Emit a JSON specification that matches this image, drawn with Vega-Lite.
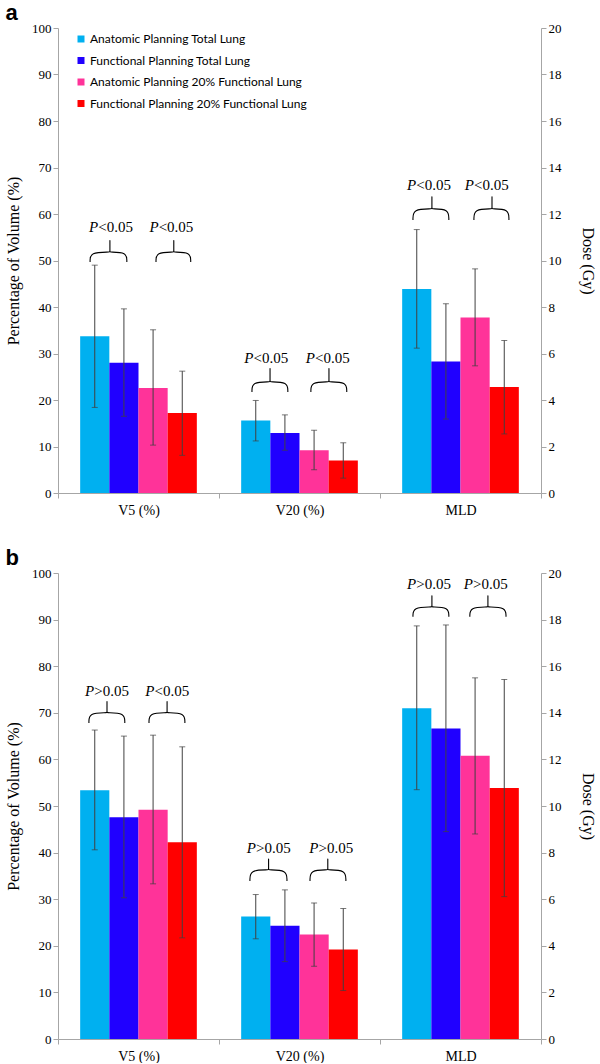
{
  "$schema": "https://vega.github.io/schema/vega-lite/v6.json",
  "background": "white",
  "padding": {"left": 5, "top": 2, "right": 2, "bottom": 0},
  "spacing": 30,
  "config": {
    "view": {"stroke": null},
    "axis": {"domainColor": "#a6a6a6", "tickColor": "#a6a6a6", "labelFont": "Liberation Serif", "labelFontSize": 13, "labelColor": "#000", "titleFont": "Liberation Serif", "titleFontSize": 16, "titleFontWeight": "normal", "titleColor": "#000", "grid": false, "tickSize": 5},
    "title": {"font": "Liberation Sans", "fontSize": 22, "fontWeight": "bold", "color": "#000", "anchor": "start", "frame": "bounds", "offset": -3},
    "legend": {"title": null, "orient": "none", "legendX": 17, "legendY": 5, "symbolType": "square", "symbolSize": 49, "symbolStrokeWidth": 0, "labelFont": "Lato", "labelFontSize": 12, "labelLimit": 0, "labelColor": "#000", "rowPadding": 9.5, "labelOffset": 3, "padding": 0, "direction": "vertical"}
  },
  "datasets": {
    "bars": [
      {"panel": "a", "metric": "V5 (%)", "series": "Anatomic Planning Total Lung", "mean": 33.7, "lo": 18.4, "hi": 49.0},
      {"panel": "a", "metric": "V5 (%)", "series": "Functional Planning Total Lung", "mean": 28.0, "lo": 16.5, "hi": 39.6},
      {"panel": "a", "metric": "V5 (%)", "series": "Anatomic Planning 20% Functional Lung", "mean": 22.6, "lo": 10.3, "hi": 35.1},
      {"panel": "a", "metric": "V5 (%)", "series": "Functional Planning 20% Functional Lung", "mean": 17.2, "lo": 8.1, "hi": 26.2},
      {"panel": "a", "metric": "V20 (%)", "series": "Anatomic Planning Total Lung", "mean": 15.6, "lo": 11.2, "hi": 19.9},
      {"panel": "a", "metric": "V20 (%)", "series": "Functional Planning Total Lung", "mean": 12.9, "lo": 9.2, "hi": 16.8},
      {"panel": "a", "metric": "V20 (%)", "series": "Anatomic Planning 20% Functional Lung", "mean": 9.2, "lo": 5.0, "hi": 13.5},
      {"panel": "a", "metric": "V20 (%)", "series": "Functional Planning 20% Functional Lung", "mean": 7.0, "lo": 3.2, "hi": 10.8},
      {"panel": "a", "metric": "MLD", "series": "Anatomic Planning Total Lung", "mean": 8.77, "lo": 6.23, "hi": 11.33},
      {"panel": "a", "metric": "MLD", "series": "Functional Planning Total Lung", "mean": 5.66, "lo": 3.18, "hi": 8.14},
      {"panel": "a", "metric": "MLD", "series": "Anatomic Planning 20% Functional Lung", "mean": 7.55, "lo": 5.47, "hi": 9.64},
      {"panel": "a", "metric": "MLD", "series": "Functional Planning 20% Functional Lung", "mean": 4.56, "lo": 2.54, "hi": 6.56},
      {"panel": "b", "metric": "V5 (%)", "series": "Anatomic Planning Total Lung", "mean": 53.4, "lo": 40.6, "hi": 66.3},
      {"panel": "b", "metric": "V5 (%)", "series": "Functional Planning Total Lung", "mean": 47.6, "lo": 30.3, "hi": 65.0},
      {"panel": "b", "metric": "V5 (%)", "series": "Anatomic Planning 20% Functional Lung", "mean": 49.2, "lo": 33.3, "hi": 65.2},
      {"panel": "b", "metric": "V5 (%)", "series": "Functional Planning 20% Functional Lung", "mean": 42.2, "lo": 21.7, "hi": 62.7},
      {"panel": "b", "metric": "V20 (%)", "series": "Anatomic Planning Total Lung", "mean": 26.3, "lo": 21.5, "hi": 31.0},
      {"panel": "b", "metric": "V20 (%)", "series": "Functional Planning Total Lung", "mean": 24.3, "lo": 16.6, "hi": 32.0},
      {"panel": "b", "metric": "V20 (%)", "series": "Anatomic Planning 20% Functional Lung", "mean": 22.4, "lo": 15.6, "hi": 29.2},
      {"panel": "b", "metric": "V20 (%)", "series": "Functional Planning 20% Functional Lung", "mean": 19.2, "lo": 10.4, "hi": 28.0},
      {"panel": "b", "metric": "MLD", "series": "Anatomic Planning Total Lung", "mean": 14.2, "lo": 10.7, "hi": 17.73},
      {"panel": "b", "metric": "MLD", "series": "Functional Planning Total Lung", "mean": 13.33, "lo": 8.9, "hi": 17.77},
      {"panel": "b", "metric": "MLD", "series": "Anatomic Planning 20% Functional Lung", "mean": 12.16, "lo": 8.8, "hi": 15.5},
      {"panel": "b", "metric": "MLD", "series": "Functional Planning 20% Functional Lung", "mean": 10.77, "lo": 6.11, "hi": 15.43}
    ],
    "braces": [
      {"panel": "a", "metric": "V5 (%)", "g": "aV51", "k": 0, "pos": 1.10, "y": 49.7},
      {"panel": "a", "metric": "V5 (%)", "g": "aV51", "k": 1, "pos": 1.10, "y": 51.8},
      {"panel": "a", "metric": "V5 (%)", "g": "aV51", "k": 2, "pos": 1.78, "y": 51.8},
      {"panel": "a", "metric": "V5 (%)", "g": "aV51", "k": 3, "pos": 1.78, "y": 51.8},
      {"panel": "a", "metric": "V5 (%)", "g": "aV51", "k": 4, "pos": 1.78, "y": 54.4},
      {"panel": "a", "metric": "V5 (%)", "g": "aV51", "k": 5, "pos": 1.78, "y": 54.4},
      {"panel": "a", "metric": "V5 (%)", "g": "aV51", "k": 6, "pos": 1.78, "y": 51.8},
      {"panel": "a", "metric": "V5 (%)", "g": "aV51", "k": 7, "pos": 1.78, "y": 51.8},
      {"panel": "a", "metric": "V5 (%)", "g": "aV51", "k": 8, "pos": 2.36, "y": 51.8},
      {"panel": "a", "metric": "V5 (%)", "g": "aV51", "k": 9, "pos": 2.36, "y": 49.7},
      {"panel": "a", "metric": "V5 (%)", "g": "aV52", "k": 0, "pos": 3.36, "y": 49.7},
      {"panel": "a", "metric": "V5 (%)", "g": "aV52", "k": 1, "pos": 3.36, "y": 51.8},
      {"panel": "a", "metric": "V5 (%)", "g": "aV52", "k": 2, "pos": 3.97, "y": 51.8},
      {"panel": "a", "metric": "V5 (%)", "g": "aV52", "k": 3, "pos": 3.97, "y": 51.8},
      {"panel": "a", "metric": "V5 (%)", "g": "aV52", "k": 4, "pos": 3.97, "y": 54.4},
      {"panel": "a", "metric": "V5 (%)", "g": "aV52", "k": 5, "pos": 3.97, "y": 54.4},
      {"panel": "a", "metric": "V5 (%)", "g": "aV52", "k": 6, "pos": 3.97, "y": 51.8},
      {"panel": "a", "metric": "V5 (%)", "g": "aV52", "k": 7, "pos": 3.97, "y": 51.8},
      {"panel": "a", "metric": "V5 (%)", "g": "aV52", "k": 8, "pos": 4.55, "y": 51.8},
      {"panel": "a", "metric": "V5 (%)", "g": "aV52", "k": 9, "pos": 4.55, "y": 49.7},
      {"panel": "a", "metric": "V20 (%)", "g": "aV201", "k": 0, "pos": 1.13, "y": 21.7},
      {"panel": "a", "metric": "V20 (%)", "g": "aV201", "k": 1, "pos": 1.13, "y": 23.9},
      {"panel": "a", "metric": "V20 (%)", "g": "aV201", "k": 2, "pos": 1.75, "y": 23.9},
      {"panel": "a", "metric": "V20 (%)", "g": "aV201", "k": 3, "pos": 1.75, "y": 23.9},
      {"panel": "a", "metric": "V20 (%)", "g": "aV201", "k": 4, "pos": 1.75, "y": 26.9},
      {"panel": "a", "metric": "V20 (%)", "g": "aV201", "k": 5, "pos": 1.75, "y": 26.9},
      {"panel": "a", "metric": "V20 (%)", "g": "aV201", "k": 6, "pos": 1.75, "y": 23.9},
      {"panel": "a", "metric": "V20 (%)", "g": "aV201", "k": 7, "pos": 1.75, "y": 23.9},
      {"panel": "a", "metric": "V20 (%)", "g": "aV201", "k": 8, "pos": 2.36, "y": 23.9},
      {"panel": "a", "metric": "V20 (%)", "g": "aV201", "k": 9, "pos": 2.36, "y": 21.7},
      {"panel": "a", "metric": "V20 (%)", "g": "aV202", "k": 0, "pos": 3.15, "y": 21.7},
      {"panel": "a", "metric": "V20 (%)", "g": "aV202", "k": 1, "pos": 3.15, "y": 23.9},
      {"panel": "a", "metric": "V20 (%)", "g": "aV202", "k": 2, "pos": 3.77, "y": 23.9},
      {"panel": "a", "metric": "V20 (%)", "g": "aV202", "k": 3, "pos": 3.77, "y": 23.9},
      {"panel": "a", "metric": "V20 (%)", "g": "aV202", "k": 4, "pos": 3.77, "y": 26.9},
      {"panel": "a", "metric": "V20 (%)", "g": "aV202", "k": 5, "pos": 3.77, "y": 26.9},
      {"panel": "a", "metric": "V20 (%)", "g": "aV202", "k": 6, "pos": 3.77, "y": 23.9},
      {"panel": "a", "metric": "V20 (%)", "g": "aV202", "k": 7, "pos": 3.77, "y": 23.9},
      {"panel": "a", "metric": "V20 (%)", "g": "aV202", "k": 8, "pos": 4.38, "y": 23.9},
      {"panel": "a", "metric": "V20 (%)", "g": "aV202", "k": 9, "pos": 4.38, "y": 21.7},
      {"panel": "a", "metric": "MLD", "g": "aM1", "k": 0, "pos": 1.13, "y": 58.7},
      {"panel": "a", "metric": "MLD", "g": "aM1", "k": 1, "pos": 1.13, "y": 61.1},
      {"panel": "a", "metric": "MLD", "g": "aM1", "k": 2, "pos": 1.78, "y": 61.1},
      {"panel": "a", "metric": "MLD", "g": "aM1", "k": 3, "pos": 1.78, "y": 61.1},
      {"panel": "a", "metric": "MLD", "g": "aM1", "k": 4, "pos": 1.78, "y": 63.8},
      {"panel": "a", "metric": "MLD", "g": "aM1", "k": 5, "pos": 1.78, "y": 63.8},
      {"panel": "a", "metric": "MLD", "g": "aM1", "k": 6, "pos": 1.78, "y": 61.1},
      {"panel": "a", "metric": "MLD", "g": "aM1", "k": 7, "pos": 1.78, "y": 61.1},
      {"panel": "a", "metric": "MLD", "g": "aM1", "k": 8, "pos": 2.36, "y": 61.1},
      {"panel": "a", "metric": "MLD", "g": "aM1", "k": 9, "pos": 2.36, "y": 58.7},
      {"panel": "a", "metric": "MLD", "g": "aM2", "k": 0, "pos": 3.22, "y": 58.7},
      {"panel": "a", "metric": "MLD", "g": "aM2", "k": 1, "pos": 3.22, "y": 61.1},
      {"panel": "a", "metric": "MLD", "g": "aM2", "k": 2, "pos": 3.84, "y": 61.1},
      {"panel": "a", "metric": "MLD", "g": "aM2", "k": 3, "pos": 3.84, "y": 61.1},
      {"panel": "a", "metric": "MLD", "g": "aM2", "k": 4, "pos": 3.84, "y": 63.8},
      {"panel": "a", "metric": "MLD", "g": "aM2", "k": 5, "pos": 3.84, "y": 63.8},
      {"panel": "a", "metric": "MLD", "g": "aM2", "k": 6, "pos": 3.84, "y": 61.1},
      {"panel": "a", "metric": "MLD", "g": "aM2", "k": 7, "pos": 3.84, "y": 61.1},
      {"panel": "a", "metric": "MLD", "g": "aM2", "k": 8, "pos": 4.42, "y": 61.1},
      {"panel": "a", "metric": "MLD", "g": "aM2", "k": 9, "pos": 4.42, "y": 58.7},
      {"panel": "b", "metric": "V5 (%)", "g": "bV51", "k": 0, "pos": 1.06, "y": 67.8},
      {"panel": "b", "metric": "V5 (%)", "g": "bV51", "k": 1, "pos": 1.06, "y": 70.0},
      {"panel": "b", "metric": "V5 (%)", "g": "bV51", "k": 2, "pos": 1.68, "y": 70.0},
      {"panel": "b", "metric": "V5 (%)", "g": "bV51", "k": 3, "pos": 1.68, "y": 70.0},
      {"panel": "b", "metric": "V5 (%)", "g": "bV51", "k": 4, "pos": 1.68, "y": 72.5},
      {"panel": "b", "metric": "V5 (%)", "g": "bV51", "k": 5, "pos": 1.68, "y": 72.5},
      {"panel": "b", "metric": "V5 (%)", "g": "bV51", "k": 6, "pos": 1.68, "y": 70.0},
      {"panel": "b", "metric": "V5 (%)", "g": "bV51", "k": 7, "pos": 1.68, "y": 70.0},
      {"panel": "b", "metric": "V5 (%)", "g": "bV51", "k": 8, "pos": 2.29, "y": 70.0},
      {"panel": "b", "metric": "V5 (%)", "g": "bV51", "k": 9, "pos": 2.29, "y": 67.8},
      {"panel": "b", "metric": "V5 (%)", "g": "bV52", "k": 0, "pos": 3.12, "y": 67.8},
      {"panel": "b", "metric": "V5 (%)", "g": "bV52", "k": 1, "pos": 3.12, "y": 70.0},
      {"panel": "b", "metric": "V5 (%)", "g": "bV52", "k": 2, "pos": 3.74, "y": 70.0},
      {"panel": "b", "metric": "V5 (%)", "g": "bV52", "k": 3, "pos": 3.74, "y": 70.0},
      {"panel": "b", "metric": "V5 (%)", "g": "bV52", "k": 4, "pos": 3.74, "y": 72.5},
      {"panel": "b", "metric": "V5 (%)", "g": "bV52", "k": 5, "pos": 3.74, "y": 72.5},
      {"panel": "b", "metric": "V5 (%)", "g": "bV52", "k": 6, "pos": 3.74, "y": 70.0},
      {"panel": "b", "metric": "V5 (%)", "g": "bV52", "k": 7, "pos": 3.74, "y": 70.0},
      {"panel": "b", "metric": "V5 (%)", "g": "bV52", "k": 8, "pos": 4.35, "y": 70.0},
      {"panel": "b", "metric": "V5 (%)", "g": "bV52", "k": 9, "pos": 4.35, "y": 67.8},
      {"panel": "b", "metric": "V20 (%)", "g": "bV201", "k": 0, "pos": 1.06, "y": 33.9},
      {"panel": "b", "metric": "V20 (%)", "g": "bV201", "k": 1, "pos": 1.06, "y": 36.3},
      {"panel": "b", "metric": "V20 (%)", "g": "bV201", "k": 2, "pos": 1.70, "y": 36.3},
      {"panel": "b", "metric": "V20 (%)", "g": "bV201", "k": 3, "pos": 1.70, "y": 36.3},
      {"panel": "b", "metric": "V20 (%)", "g": "bV201", "k": 4, "pos": 1.70, "y": 38.7},
      {"panel": "b", "metric": "V20 (%)", "g": "bV201", "k": 5, "pos": 1.70, "y": 38.7},
      {"panel": "b", "metric": "V20 (%)", "g": "bV201", "k": 6, "pos": 1.70, "y": 36.3},
      {"panel": "b", "metric": "V20 (%)", "g": "bV201", "k": 7, "pos": 1.70, "y": 36.3},
      {"panel": "b", "metric": "V20 (%)", "g": "bV201", "k": 8, "pos": 2.33, "y": 36.3},
      {"panel": "b", "metric": "V20 (%)", "g": "bV201", "k": 9, "pos": 2.33, "y": 33.9},
      {"panel": "b", "metric": "V20 (%)", "g": "bV202", "k": 0, "pos": 3.12, "y": 33.9},
      {"panel": "b", "metric": "V20 (%)", "g": "bV202", "k": 1, "pos": 3.12, "y": 36.3},
      {"panel": "b", "metric": "V20 (%)", "g": "bV202", "k": 2, "pos": 3.73, "y": 36.3},
      {"panel": "b", "metric": "V20 (%)", "g": "bV202", "k": 3, "pos": 3.73, "y": 36.3},
      {"panel": "b", "metric": "V20 (%)", "g": "bV202", "k": 4, "pos": 3.73, "y": 38.7},
      {"panel": "b", "metric": "V20 (%)", "g": "bV202", "k": 5, "pos": 3.73, "y": 38.7},
      {"panel": "b", "metric": "V20 (%)", "g": "bV202", "k": 6, "pos": 3.73, "y": 36.3},
      {"panel": "b", "metric": "V20 (%)", "g": "bV202", "k": 7, "pos": 3.73, "y": 36.3},
      {"panel": "b", "metric": "V20 (%)", "g": "bV202", "k": 8, "pos": 4.35, "y": 36.3},
      {"panel": "b", "metric": "V20 (%)", "g": "bV202", "k": 9, "pos": 4.35, "y": 33.9},
      {"panel": "b", "metric": "MLD", "g": "bM1", "k": 0, "pos": 1.13, "y": 90.6},
      {"panel": "b", "metric": "MLD", "g": "bM1", "k": 1, "pos": 1.13, "y": 92.7},
      {"panel": "b", "metric": "MLD", "g": "bM1", "k": 2, "pos": 1.78, "y": 92.7},
      {"panel": "b", "metric": "MLD", "g": "bM1", "k": 3, "pos": 1.78, "y": 92.7},
      {"panel": "b", "metric": "MLD", "g": "bM1", "k": 4, "pos": 1.78, "y": 95.2},
      {"panel": "b", "metric": "MLD", "g": "bM1", "k": 5, "pos": 1.78, "y": 95.2},
      {"panel": "b", "metric": "MLD", "g": "bM1", "k": 6, "pos": 1.78, "y": 92.7},
      {"panel": "b", "metric": "MLD", "g": "bM1", "k": 7, "pos": 1.78, "y": 92.7},
      {"panel": "b", "metric": "MLD", "g": "bM1", "k": 8, "pos": 2.36, "y": 92.7},
      {"panel": "b", "metric": "MLD", "g": "bM1", "k": 9, "pos": 2.36, "y": 90.6},
      {"panel": "b", "metric": "MLD", "g": "bM2", "k": 0, "pos": 3.08, "y": 90.6},
      {"panel": "b", "metric": "MLD", "g": "bM2", "k": 1, "pos": 3.08, "y": 92.7},
      {"panel": "b", "metric": "MLD", "g": "bM2", "k": 2, "pos": 3.70, "y": 92.7},
      {"panel": "b", "metric": "MLD", "g": "bM2", "k": 3, "pos": 3.70, "y": 92.7},
      {"panel": "b", "metric": "MLD", "g": "bM2", "k": 4, "pos": 3.70, "y": 95.2},
      {"panel": "b", "metric": "MLD", "g": "bM2", "k": 5, "pos": 3.70, "y": 95.2},
      {"panel": "b", "metric": "MLD", "g": "bM2", "k": 6, "pos": 3.70, "y": 92.7},
      {"panel": "b", "metric": "MLD", "g": "bM2", "k": 7, "pos": 3.70, "y": 92.7},
      {"panel": "b", "metric": "MLD", "g": "bM2", "k": 8, "pos": 4.32, "y": 92.7},
      {"panel": "b", "metric": "MLD", "g": "bM2", "k": 9, "pos": 4.32, "y": 90.6}
    ],
    "ptext": [
      {"panel": "a", "metric": "V5 (%)", "pos": 1.38, "y": 57.2, "p": "P", "rest": "<0.05"},
      {"panel": "a", "metric": "V5 (%)", "pos": 3.45, "y": 57.2, "p": "P", "rest": "<0.05"},
      {"panel": "a", "metric": "V20 (%)", "pos": 1.18, "y": 29.0, "p": "P", "rest": "<0.05"},
      {"panel": "a", "metric": "V20 (%)", "pos": 3.29, "y": 29.0, "p": "P", "rest": "<0.05"},
      {"panel": "a", "metric": "MLD", "pos": 1.24, "y": 66.2, "p": "P", "rest": "<0.05"},
      {"panel": "a", "metric": "MLD", "pos": 3.22, "y": 66.2, "p": "P", "rest": "<0.05"},
      {"panel": "b", "metric": "V5 (%)", "pos": 1.24, "y": 74.7, "p": "P", "rest": ">0.05"},
      {"panel": "b", "metric": "V5 (%)", "pos": 3.31, "y": 74.7, "p": "P", "rest": "<0.05"},
      {"panel": "b", "metric": "V20 (%)", "pos": 1.27, "y": 41.0, "p": "P", "rest": ">0.05"},
      {"panel": "b", "metric": "V20 (%)", "pos": 3.41, "y": 41.0, "p": "P", "rest": ">0.05"},
      {"panel": "b", "metric": "MLD", "pos": 1.24, "y": 97.6, "p": "P", "rest": ">0.05"},
      {"panel": "b", "metric": "MLD", "pos": 3.19, "y": 97.6, "p": "P", "rest": ">0.05"}
    ]
  },
  "vconcat": [
    {
      "width": 483,
      "height": 465,
      "title": {"text": "a"},
      "resolve": {"scale": {"y": "independent", "xOffset": "independent"}},
      "encoding": {
        "x": {"field": "metric", "type": "nominal", "title": null, "scale": {"domain": ["V5 (%)", "V20 (%)", "MLD"], "paddingInner": 0, "paddingOuter": 0}, "axis": {"labelAngle": 0, "labelFontSize": 14, "tickBand": "extent", "labelPadding": 5, "tickSize": 5}}
      },
      "layer": [
        {"data": {"name": "bars"}, "transform": [{"filter": "datum.panel === 'a' && datum.metric !== 'MLD'"}], "mark": {"type": "bar"},
         "encoding": {
           "xOffset": {"field": "series", "type": "nominal", "scale": {"domain": ["Anatomic Planning Total Lung", "Functional Planning Total Lung", "Anatomic Planning 20% Functional Lung", "Functional Planning 20% Functional Lung"], "paddingInner": 0, "paddingOuter": 0.76}},
           "y": {"field": "mean", "type": "quantitative", "scale": {"domain": [0, 100]}, "axis": {"orient": "left", "values": [0, 10, 20, 30, 40, 50, 60, 70, 80, 90, 100], "title": "Percentage of Volume (%)", "titlePadding": 10}},
           "color": {"field": "series", "type": "nominal", "scale": {"domain": ["Anatomic Planning Total Lung", "Functional Planning Total Lung", "Anatomic Planning 20% Functional Lung", "Functional Planning 20% Functional Lung"], "range": ["#00B0F0", "#2000FF", "#FF3399", "#FF0000"]}}
         }},
        {"data": {"name": "bars"}, "transform": [{"filter": "datum.panel === 'a' && datum.metric !== 'MLD'"}], "mark": {"type": "rule", "color": "#404040", "strokeWidth": 1},
         "encoding": {
           "xOffset": {"field": "series", "type": "nominal", "scale": {"domain": ["Anatomic Planning Total Lung", "Functional Planning Total Lung", "Anatomic Planning 20% Functional Lung", "Functional Planning 20% Functional Lung"], "paddingInner": 0, "paddingOuter": 0.76}},
           "y": {"field": "lo", "type": "quantitative", "scale": {"domain": [0, 100]}, "axis": null},
           "y2": {"field": "hi"}
         }},
        {"data": {"name": "bars"}, "transform": [{"filter": "datum.panel === 'a' && datum.metric !== 'MLD'"}], "mark": {"type": "tick", "orient": "horizontal", "size": 6, "thickness": 1, "color": "#404040"},
         "encoding": {
           "xOffset": {"field": "series", "type": "nominal", "scale": {"domain": ["Anatomic Planning Total Lung", "Functional Planning Total Lung", "Anatomic Planning 20% Functional Lung", "Functional Planning 20% Functional Lung"], "paddingInner": 0, "paddingOuter": 0.76}},
           "y": {"field": "lo", "type": "quantitative", "scale": {"domain": [0, 100]}, "axis": null}
         }},
        {"data": {"name": "bars"}, "transform": [{"filter": "datum.panel === 'a' && datum.metric !== 'MLD'"}], "mark": {"type": "tick", "orient": "horizontal", "size": 6, "thickness": 1, "color": "#404040"},
         "encoding": {
           "xOffset": {"field": "series", "type": "nominal", "scale": {"domain": ["Anatomic Planning Total Lung", "Functional Planning Total Lung", "Anatomic Planning 20% Functional Lung", "Functional Planning 20% Functional Lung"], "paddingInner": 0, "paddingOuter": 0.76}},
           "y": {"field": "hi", "type": "quantitative", "scale": {"domain": [0, 100]}, "axis": null}
         }},
        {"data": {"name": "bars"}, "transform": [{"filter": "datum.panel === 'a' && datum.metric === 'MLD'"}], "mark": {"type": "bar"},
         "encoding": {
           "xOffset": {"field": "series", "type": "nominal", "scale": {"domain": ["Anatomic Planning Total Lung", "Functional Planning Total Lung", "Anatomic Planning 20% Functional Lung", "Functional Planning 20% Functional Lung"], "paddingInner": 0, "paddingOuter": 0.76}},
           "y": {"field": "mean", "type": "quantitative", "scale": {"domain": [0, 20]}, "axis": {"orient": "right", "values": [0, 2, 4, 6, 8, 10, 12, 14, 16, 18, 20], "title": "Dose (Gy)", "titlePadding": 18}},
           "color": {"field": "series", "type": "nominal", "scale": {"domain": ["Anatomic Planning Total Lung", "Functional Planning Total Lung", "Anatomic Planning 20% Functional Lung", "Functional Planning 20% Functional Lung"], "range": ["#00B0F0", "#2000FF", "#FF3399", "#FF0000"]}}
         }},
        {"data": {"name": "bars"}, "transform": [{"filter": "datum.panel === 'a' && datum.metric === 'MLD'"}], "mark": {"type": "rule", "color": "#404040", "strokeWidth": 1},
         "encoding": {
           "xOffset": {"field": "series", "type": "nominal", "scale": {"domain": ["Anatomic Planning Total Lung", "Functional Planning Total Lung", "Anatomic Planning 20% Functional Lung", "Functional Planning 20% Functional Lung"], "paddingInner": 0, "paddingOuter": 0.76}},
           "y": {"field": "lo", "type": "quantitative", "scale": {"domain": [0, 20]}, "axis": null},
           "y2": {"field": "hi"}
         }},
        {"data": {"name": "bars"}, "transform": [{"filter": "datum.panel === 'a' && datum.metric === 'MLD'"}], "mark": {"type": "tick", "orient": "horizontal", "size": 6, "thickness": 1, "color": "#404040"},
         "encoding": {
           "xOffset": {"field": "series", "type": "nominal", "scale": {"domain": ["Anatomic Planning Total Lung", "Functional Planning Total Lung", "Anatomic Planning 20% Functional Lung", "Functional Planning 20% Functional Lung"], "paddingInner": 0, "paddingOuter": 0.76}},
           "y": {"field": "lo", "type": "quantitative", "scale": {"domain": [0, 20]}, "axis": null}
         }},
        {"data": {"name": "bars"}, "transform": [{"filter": "datum.panel === 'a' && datum.metric === 'MLD'"}], "mark": {"type": "tick", "orient": "horizontal", "size": 6, "thickness": 1, "color": "#404040"},
         "encoding": {
           "xOffset": {"field": "series", "type": "nominal", "scale": {"domain": ["Anatomic Planning Total Lung", "Functional Planning Total Lung", "Anatomic Planning 20% Functional Lung", "Functional Planning 20% Functional Lung"], "paddingInner": 0, "paddingOuter": 0.76}},
           "y": {"field": "hi", "type": "quantitative", "scale": {"domain": [0, 20]}, "axis": null}
         }},
        {"data": {"name": "braces"}, "transform": [{"filter": "datum.panel === 'a'"}], "mark": {"type": "line", "color": "#000", "strokeWidth": 1.1, "interpolate": "basis"},
         "encoding": {
           "xOffset": {"field": "pos", "type": "quantitative", "scale": {"domain": [0, 5.52], "zero": false, "nice": false}},
           "y": {"field": "y", "type": "quantitative", "scale": {"domain": [0, 100]}, "axis": null},
           "detail": {"field": "g"},
           "order": {"field": "k"}
         }},
        {"data": {"name": "ptext"}, "transform": [{"filter": "datum.panel === 'a'"}], "mark": {"type": "text", "font": "Liberation Serif", "fontStyle": "italic", "fontSize": 15, "align": "right", "baseline": "middle", "color": "#000"},
         "encoding": {
           "xOffset": {"field": "pos", "type": "quantitative", "scale": {"domain": [0, 5.52], "zero": false, "nice": false}},
           "y": {"field": "y", "type": "quantitative", "scale": {"domain": [0, 100]}, "axis": null},
           "text": {"field": "p"}
         }},
        {"data": {"name": "ptext"}, "transform": [{"filter": "datum.panel === 'a'"}], "mark": {"type": "text", "font": "Liberation Serif", "fontSize": 15, "align": "left", "baseline": "middle", "color": "#000"},
         "encoding": {
           "xOffset": {"field": "pos", "type": "quantitative", "scale": {"domain": [0, 5.52], "zero": false, "nice": false}},
           "y": {"field": "y", "type": "quantitative", "scale": {"domain": [0, 100]}, "axis": null},
           "text": {"field": "rest"}
         }}
      ]
    },
    {
      "width": 483,
      "height": 466,
      "title": {"text": "b"},
      "resolve": {"scale": {"y": "independent", "xOffset": "independent"}},
      "encoding": {
        "x": {"field": "metric", "type": "nominal", "title": null, "scale": {"domain": ["V5 (%)", "V20 (%)", "MLD"], "paddingInner": 0, "paddingOuter": 0}, "axis": {"labelAngle": 0, "labelFontSize": 14, "tickBand": "extent", "labelPadding": 5, "tickSize": 5}}
      },
      "layer": [
        {"data": {"name": "bars"}, "transform": [{"filter": "datum.panel === 'b' && datum.metric !== 'MLD'"}], "mark": {"type": "bar"},
         "encoding": {
           "xOffset": {"field": "series", "type": "nominal", "scale": {"domain": ["Anatomic Planning Total Lung", "Functional Planning Total Lung", "Anatomic Planning 20% Functional Lung", "Functional Planning 20% Functional Lung"], "paddingInner": 0, "paddingOuter": 0.76}},
           "y": {"field": "mean", "type": "quantitative", "scale": {"domain": [0, 100]}, "axis": {"orient": "left", "values": [0, 10, 20, 30, 40, 50, 60, 70, 80, 90, 100], "title": "Percentage of Volume (%)", "titlePadding": 10}},
           "color": {"field": "series", "type": "nominal", "scale": {"domain": ["Anatomic Planning Total Lung", "Functional Planning Total Lung", "Anatomic Planning 20% Functional Lung", "Functional Planning 20% Functional Lung"], "range": ["#00B0F0", "#2000FF", "#FF3399", "#FF0000"]}}
         }},
        {"data": {"name": "bars"}, "transform": [{"filter": "datum.panel === 'b' && datum.metric !== 'MLD'"}], "mark": {"type": "rule", "color": "#404040", "strokeWidth": 1},
         "encoding": {
           "xOffset": {"field": "series", "type": "nominal", "scale": {"domain": ["Anatomic Planning Total Lung", "Functional Planning Total Lung", "Anatomic Planning 20% Functional Lung", "Functional Planning 20% Functional Lung"], "paddingInner": 0, "paddingOuter": 0.76}},
           "y": {"field": "lo", "type": "quantitative", "scale": {"domain": [0, 100]}, "axis": null},
           "y2": {"field": "hi"}
         }},
        {"data": {"name": "bars"}, "transform": [{"filter": "datum.panel === 'b' && datum.metric !== 'MLD'"}], "mark": {"type": "tick", "orient": "horizontal", "size": 6, "thickness": 1, "color": "#404040"},
         "encoding": {
           "xOffset": {"field": "series", "type": "nominal", "scale": {"domain": ["Anatomic Planning Total Lung", "Functional Planning Total Lung", "Anatomic Planning 20% Functional Lung", "Functional Planning 20% Functional Lung"], "paddingInner": 0, "paddingOuter": 0.76}},
           "y": {"field": "lo", "type": "quantitative", "scale": {"domain": [0, 100]}, "axis": null}
         }},
        {"data": {"name": "bars"}, "transform": [{"filter": "datum.panel === 'b' && datum.metric !== 'MLD'"}], "mark": {"type": "tick", "orient": "horizontal", "size": 6, "thickness": 1, "color": "#404040"},
         "encoding": {
           "xOffset": {"field": "series", "type": "nominal", "scale": {"domain": ["Anatomic Planning Total Lung", "Functional Planning Total Lung", "Anatomic Planning 20% Functional Lung", "Functional Planning 20% Functional Lung"], "paddingInner": 0, "paddingOuter": 0.76}},
           "y": {"field": "hi", "type": "quantitative", "scale": {"domain": [0, 100]}, "axis": null}
         }},
        {"data": {"name": "bars"}, "transform": [{"filter": "datum.panel === 'b' && datum.metric === 'MLD'"}], "mark": {"type": "bar"},
         "encoding": {
           "xOffset": {"field": "series", "type": "nominal", "scale": {"domain": ["Anatomic Planning Total Lung", "Functional Planning Total Lung", "Anatomic Planning 20% Functional Lung", "Functional Planning 20% Functional Lung"], "paddingInner": 0, "paddingOuter": 0.76}},
           "y": {"field": "mean", "type": "quantitative", "scale": {"domain": [0, 20]}, "axis": {"orient": "right", "values": [0, 2, 4, 6, 8, 10, 12, 14, 16, 18, 20], "title": "Dose (Gy)", "titlePadding": 18}},
           "color": {"field": "series", "type": "nominal", "scale": {"domain": ["Anatomic Planning Total Lung", "Functional Planning Total Lung", "Anatomic Planning 20% Functional Lung", "Functional Planning 20% Functional Lung"], "range": ["#00B0F0", "#2000FF", "#FF3399", "#FF0000"]}}
         }},
        {"data": {"name": "bars"}, "transform": [{"filter": "datum.panel === 'b' && datum.metric === 'MLD'"}], "mark": {"type": "rule", "color": "#404040", "strokeWidth": 1},
         "encoding": {
           "xOffset": {"field": "series", "type": "nominal", "scale": {"domain": ["Anatomic Planning Total Lung", "Functional Planning Total Lung", "Anatomic Planning 20% Functional Lung", "Functional Planning 20% Functional Lung"], "paddingInner": 0, "paddingOuter": 0.76}},
           "y": {"field": "lo", "type": "quantitative", "scale": {"domain": [0, 20]}, "axis": null},
           "y2": {"field": "hi"}
         }},
        {"data": {"name": "bars"}, "transform": [{"filter": "datum.panel === 'b' && datum.metric === 'MLD'"}], "mark": {"type": "tick", "orient": "horizontal", "size": 6, "thickness": 1, "color": "#404040"},
         "encoding": {
           "xOffset": {"field": "series", "type": "nominal", "scale": {"domain": ["Anatomic Planning Total Lung", "Functional Planning Total Lung", "Anatomic Planning 20% Functional Lung", "Functional Planning 20% Functional Lung"], "paddingInner": 0, "paddingOuter": 0.76}},
           "y": {"field": "lo", "type": "quantitative", "scale": {"domain": [0, 20]}, "axis": null}
         }},
        {"data": {"name": "bars"}, "transform": [{"filter": "datum.panel === 'b' && datum.metric === 'MLD'"}], "mark": {"type": "tick", "orient": "horizontal", "size": 6, "thickness": 1, "color": "#404040"},
         "encoding": {
           "xOffset": {"field": "series", "type": "nominal", "scale": {"domain": ["Anatomic Planning Total Lung", "Functional Planning Total Lung", "Anatomic Planning 20% Functional Lung", "Functional Planning 20% Functional Lung"], "paddingInner": 0, "paddingOuter": 0.76}},
           "y": {"field": "hi", "type": "quantitative", "scale": {"domain": [0, 20]}, "axis": null}
         }},
        {"data": {"name": "braces"}, "transform": [{"filter": "datum.panel === 'b'"}], "mark": {"type": "line", "color": "#000", "strokeWidth": 1.1, "interpolate": "basis"},
         "encoding": {
           "xOffset": {"field": "pos", "type": "quantitative", "scale": {"domain": [0, 5.52], "zero": false, "nice": false}},
           "y": {"field": "y", "type": "quantitative", "scale": {"domain": [0, 100]}, "axis": null},
           "detail": {"field": "g"},
           "order": {"field": "k"}
         }},
        {"data": {"name": "ptext"}, "transform": [{"filter": "datum.panel === 'b'"}], "mark": {"type": "text", "font": "Liberation Serif", "fontStyle": "italic", "fontSize": 15, "align": "right", "baseline": "middle", "color": "#000"},
         "encoding": {
           "xOffset": {"field": "pos", "type": "quantitative", "scale": {"domain": [0, 5.52], "zero": false, "nice": false}},
           "y": {"field": "y", "type": "quantitative", "scale": {"domain": [0, 100]}, "axis": null},
           "text": {"field": "p"}
         }},
        {"data": {"name": "ptext"}, "transform": [{"filter": "datum.panel === 'b'"}], "mark": {"type": "text", "font": "Liberation Serif", "fontSize": 15, "align": "left", "baseline": "middle", "color": "#000"},
         "encoding": {
           "xOffset": {"field": "pos", "type": "quantitative", "scale": {"domain": [0, 5.52], "zero": false, "nice": false}},
           "y": {"field": "y", "type": "quantitative", "scale": {"domain": [0, 100]}, "axis": null},
           "text": {"field": "rest"}
         }}
      ]
    }
  ]
}
